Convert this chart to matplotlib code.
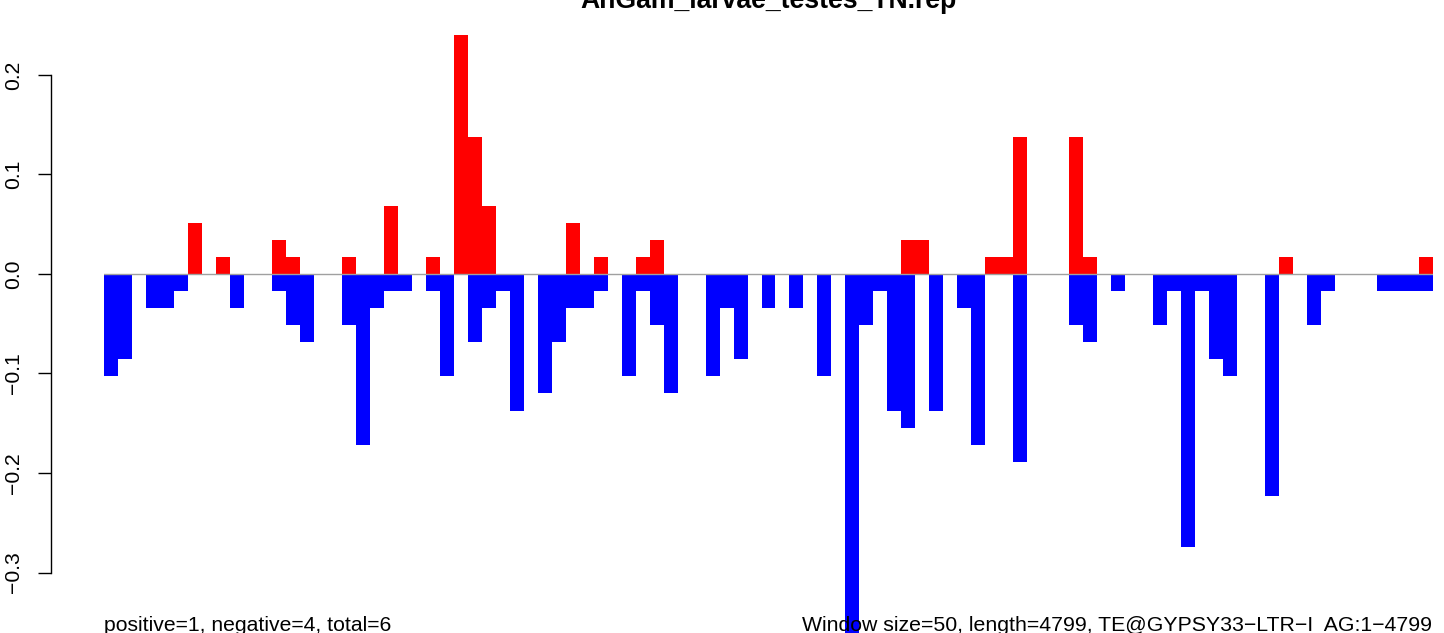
import matplotlib
matplotlib.use("Agg")
import matplotlib.pyplot as plt
import numpy as np

plt.rcParams['font.family'] = ['Liberation Sans', 'DejaVu Sans']

title = "AnGam_larvae_testes_TN.rep"
left_note = "positive=1, negative=4, total=6"
right_note = "Window size=50, length=4799, TE@GYPSY33\u2212LTR\u2212I  AG:1\u22124799"

# per-window values (95 windows of 50 bp)
positive = [
    0, 0, 0, 0, 0, 0, 0.0515, 0, 0.0172, 0,
    0, 0, 0.0343, 0.0172, 0, 0, 0, 0.0172, 0, 0,
    0.0686, 0, 0, 0.0172, 0, 0.2401, 0.1372, 0.0686, 0, 0,
    0, 0, 0, 0.0515, 0, 0.0172, 0, 0, 0.0172, 0.0343,
    0, 0, 0, 0, 0, 0, 0, 0, 0, 0,
    0, 0, 0, 0, 0, 0, 0, 0.0343, 0.0343, 0,
    0, 0, 0, 0.0172, 0.0172, 0.1372, 0, 0, 0, 0.1372,
    0.0172, 0, 0, 0, 0, 0, 0, 0, 0, 0,
    0, 0, 0, 0, 0.0172, 0, 0, 0, 0, 0,
    0, 0, 0, 0, 0.0172,
]
negative = [
    -0.1029, -0.0858, 0, -0.0343, -0.0343, -0.0172, 0, 0, 0, -0.0343,
    0, 0, -0.0172, -0.0515, -0.0686, 0, 0, -0.0515, -0.1715, -0.0343,
    -0.0172, -0.0172, 0, -0.0172, -0.1029, 0, -0.0686, -0.0343, -0.0172, -0.1372,
    0, -0.1201, -0.0686, -0.0343, -0.0343, -0.0172, 0, -0.1029, -0.0172, -0.0515,
    -0.1201, 0, 0, -0.1029, -0.0343, -0.0858, 0, -0.0343, 0, -0.0343,
    0, -0.1029, 0, -0.3773, -0.0515, -0.0172, -0.1372, -0.1544, 0, -0.1372,
    0, -0.0343, -0.1715, 0, 0, -0.1887, 0, 0, 0, -0.0515,
    -0.0686, 0, -0.0172, 0, 0, -0.0515, -0.0172, -0.2744, -0.0172, -0.0858,
    -0.1029, 0, 0, -0.2230, 0, 0, -0.0515, -0.0172, 0, 0,
    0, -0.0172, -0.0172, -0.0172, -0.0172,
]
yticks = [-0.3, -0.2, -0.1, 0.0, 0.1, 0.2]
ytick_labels = ["\u22120.3", "\u22120.2", "\u22120.1", "0.0", "0.1", "0.2"]

W, H = 1444, 633
fig = plt.figure(figsize=(W / 100, H / 100), dpi=100)
x0, x1 = 104, 1433
ax = fig.add_axes([x0 / W, 0, (x1 - x0) / W, 1])
ax.set_xlim(0, len(positive))
zero_px = 274
ppu = 995.0
ax.set_ylim(-(H - zero_px) / ppu, zero_px / ppu)

idx = np.arange(len(positive))
ax.bar(idx, positive, width=1.0, align='edge', color='#FF0000', linewidth=0)
ax.bar(idx, negative, width=1.0, align='edge', color='#0000FF', linewidth=0)
ax.axhline(0, color='#A0A0A0', linewidth=1.0, zorder=3)

for s in ['top', 'right', 'bottom']:
    ax.spines[s].set_visible(False)
ax.spines['left'].set_position(('outward', (x0 - 51) * 0.72))
ax.spines['left'].set_bounds(-0.3, 0.2)
ax.spines['left'].set_linewidth(1.0)
ax.set_xticks([])
ax.set_yticks(yticks)
ax.set_yticklabels(ytick_labels, rotation=90, va='center', fontsize=15.2)
ax.tick_params(axis='y', length=13 * 0.72, width=1.0, pad=11)
ax.patch.set_alpha(0)

fig.text((x0 + x1) / 2 / W, 1 - 8 / H, title, ha='center', va='baseline',
         fontsize=19.2, fontweight='bold')
fig.text(x0 / W, 2 / H, left_note, ha='left', va='baseline', fontsize=15.2)
fig.text(1432 / W, 2 / H, right_note, ha='right', va='baseline', fontsize=15.3)

fig.savefig("out.png", dpi=100)
